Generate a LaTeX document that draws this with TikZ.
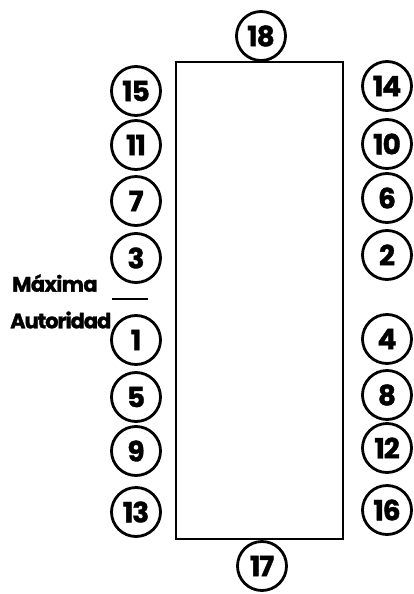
\documentclass[tikz,border=0pt]{standalone}
\usepackage{fontspec}
\setmainfont{Poppins}[BoldFeatures={FakeBold=1.3}]
\begin{document}
\begin{tikzpicture}[x=1pt,y=-1pt,
  pin/.style={circle,draw,line width=2.8pt,minimum size=49pt,inner sep=0pt,font=\fontsize{28}{28}\selectfont\bfseries\addfontfeatures{LetterSpace=-4}},
  lbl/.style={inner sep=0pt,font=\fontsize{21}{21}\selectfont\bfseries}]
\useasboundingbox (0,0) rectangle (413,594);
\node[draw,line width=2.6pt,minimum width=167pt,minimum height=477pt,inner sep=0pt] (chip) at (259.5,300.5) {};
% top and bottom
\node[pin] (p18) at (261,36) {18};
\node[pin] (p17) at (262,566) {17};
% left column
\node[pin] (p15) at (136,91) {15};
\node[pin] (p11) at (136,145) {11};
\node[pin] (p7) at (136,201) {7};
\node[pin] (p3) at (136,258) {3};
\node[pin] (p1) at (136,340) {1};
\node[pin] (p5) at (136,397) {5};
\node[pin] (p9) at (136,451) {9};
\node[pin] (p13) at (136,512) {13};
% right column
\node[pin] (p14) at (387,86) {14};
\node[pin] (p10) at (387,144) {10};
\node[pin] (p6) at (387,198) {6};
\node[pin] (p2) at (387,255) {2};
\node[pin] (p4) at (387,339) {4};
\node[pin] (p8) at (387,395) {8};
\node[pin] (p12) at (387,448) {12};
\node[pin] (p16) at (387,510) {16};
% label
\node[lbl,anchor=west] (maxima) at (12,283) {\addfontfeatures{LetterSpace=-3}Máxima};
\node[lbl,anchor=west] (autoridad) at (10,320) {\addfontfeatures{LetterSpace=-5}Autoridad};
\coordinate (la) at (112,299);
\coordinate (lb) at (148,299);
\draw[line width=2pt] (la) -- (lb);
\end{tikzpicture}
\end{document}
